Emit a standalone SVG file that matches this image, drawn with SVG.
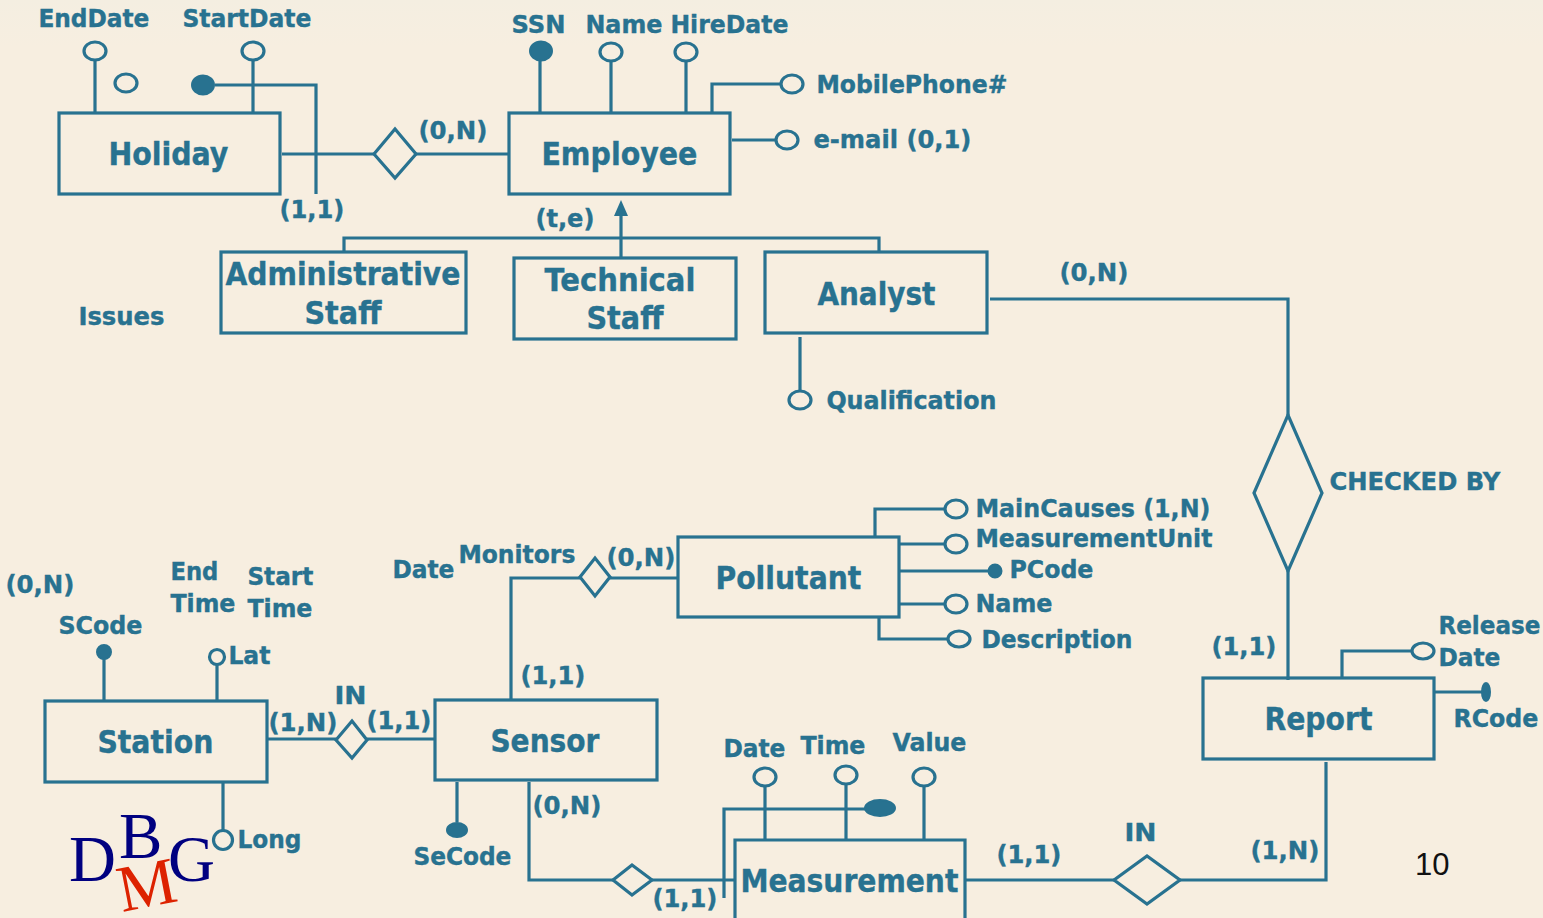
<svg xmlns="http://www.w3.org/2000/svg" width="1543" height="918" viewBox="0 0 1543 918">
<style>
.b{fill:none;stroke:#287290;stroke-width:3.2}
.e{fill:none;stroke:#287290;stroke-width:3.2}
.a{fill:#f7eee0;stroke:#287290;stroke-width:3.2}
.k{fill:#287290;stroke:#287290;stroke-width:2}
.d{fill:#f7eee0;stroke:#287290;stroke-width:3.2}
text{font-family:"DejaVu Sans",Verdana,sans-serif;font-weight:700;fill:#287290;stroke:#287290;stroke-width:.4;transform:translate(-.6px,-.8px)}
.s{font-size:25px}
.n{font-size:32px}
.l{font-family:"Liberation Serif","Times New Roman",serif;font-weight:400;stroke:none;transform:none}
</style>
<defs><linearGradient id="bg" x1="0" y1="0" x2="0" y2="1"><stop offset="0" stop-color="#f4eee1"/><stop offset="0.05" stop-color="#f7eee0"/></linearGradient></defs>
<rect width="1543" height="918" fill="url(#bg)"/>
<g id="connectors" class="e">
<path d="M95 61V113M253 61V113M215 85H316V194M282 154H374M416 154H509"/>
<path d="M540 60V113M611 61V113M686 61V113M712 113V84H781M732 140H776"/>
<path d="M344 251V238H879V252M621 258V207"/>
<path d="M990 299H1288V415M1288 571V680M800 337V390"/>
<path d="M875 537V509H944M900 544H944M900 571H990M900 604H944M879 616V639H947"/>
<path d="M511 700V578H580M610 578H678"/>
<path d="M268 739H336M367 739H435M104 653V701M217 664V701M223 782V832M457 782V822"/>
<path d="M529 782V880H613M652 880H735M724 898V809H868M765 786V840M846 785V840M924 787V840"/>
<path d="M966 880H1114M1180 880H1326V762M1342 678V651H1412M1435 692H1482"/>
</g>
<g id="Holiday"><rect class="b" x="59" y="113" width="221" height="81"/><text class="n" x="109" y="166" textLength="120" lengthAdjust="spacingAndGlyphs">Holiday</text></g>
<g id="Employee"><rect class="b" x="509" y="113" width="221" height="81"/><text class="n" x="542" y="166" textLength="156" lengthAdjust="spacingAndGlyphs">Employee</text></g>
<g id="AdministrativeStaff"><rect class="b" x="221" y="252" width="245" height="81"/><text class="n" x="226" y="286" textLength="235" lengthAdjust="spacingAndGlyphs">Administrative</text><text class="n" x="305" y="325" textLength="77" lengthAdjust="spacingAndGlyphs">Staff</text></g>
<g id="TechnicalStaff"><rect class="b" x="514" y="258" width="222" height="81"/><text class="n" x="545" y="292" textLength="151" lengthAdjust="spacingAndGlyphs">Technical</text><text class="n" x="587" y="330" textLength="77" lengthAdjust="spacingAndGlyphs">Staff</text></g>
<g id="Analyst"><rect class="b" x="765" y="252" width="222" height="81"/><text class="n" x="818" y="306" textLength="118" lengthAdjust="spacingAndGlyphs">Analyst</text></g>
<g id="Pollutant"><rect class="b" x="678" y="537" width="221" height="80"/><text class="n" x="716" y="590" textLength="146" lengthAdjust="spacingAndGlyphs">Pollutant</text></g>
<g id="Station"><rect class="b" x="45" y="701" width="222" height="81"/><text class="n" x="98" y="754" textLength="116" lengthAdjust="spacingAndGlyphs">Station</text></g>
<g id="Sensor"><rect class="b" x="435" y="700" width="222" height="80"/><text class="n" x="491" y="753" textLength="109" lengthAdjust="spacingAndGlyphs">Sensor</text></g>
<g id="Report"><rect class="b" x="1203" y="678" width="231" height="81"/><text class="n" x="1265" y="731" textLength="108" lengthAdjust="spacingAndGlyphs">Report</text></g>
<g id="Measurement"><path class="b" d="M735 918V840H965V918"/><text class="n" x="741" y="893" textLength="218" lengthAdjust="spacingAndGlyphs">Measurement</text></g>
<g id="rel-holiday"><polygon class="d" points="374,154 395,129 416,154 395,178"/></g>
<g id="rel-checked"><polygon class="d" points="1254,493 1288,415 1322,493 1288,571"/></g>
<g id="rel-monitors"><polygon class="d" points="580,577 595,558 610,577 595,596"/></g>
<g id="rel-in1"><polygon class="d" points="336,740 352,721 367,740 352,758"/></g>
<g id="rel-in2"><polygon class="d" points="613,880 632,865 652,880 632,895"/></g>
<g id="rel-in3"><polygon class="d" points="1114,880 1147,856 1180,880 1147,904"/></g>
<g id="attributes">
<ellipse class="a" cx="95" cy="51" rx="11" ry="9"/><ellipse class="a" cx="126" cy="83" rx="11" ry="9"/><ellipse class="a" cx="253" cy="51" rx="11" ry="9"/><ellipse class="k" cx="203" cy="85" rx="11" ry="9.5"/>
<ellipse class="k" cx="541" cy="51" rx="11" ry="9.5"/><ellipse class="a" cx="611" cy="52" rx="11" ry="9"/><ellipse class="a" cx="686" cy="52" rx="11" ry="9"/><ellipse class="a" cx="792" cy="84" rx="11" ry="9"/><ellipse class="a" cx="787" cy="140" rx="11" ry="9"/><ellipse class="a" cx="800" cy="400" rx="11" ry="9"/>
<ellipse class="a" cx="956" cy="509" rx="11" ry="9"/><ellipse class="a" cx="956" cy="544" rx="11" ry="9"/><circle class="k" cx="995" cy="571" r="6.5"/><ellipse class="a" cx="956" cy="604" rx="11" ry="9"/><ellipse class="a" cx="959" cy="639" rx="11" ry="8"/>
<circle class="k" cx="104" cy="652" r="7"/><circle class="a" cx="217" cy="657" r="7.5"/><circle class="a" cx="223" cy="840" r="9.5"/><ellipse class="k" cx="457" cy="830" rx="10" ry="7"/>
<ellipse class="a" cx="765" cy="777" rx="11" ry="9"/><ellipse class="a" cx="846" cy="775" rx="11" ry="9"/><ellipse class="a" cx="924" cy="777" rx="11" ry="9"/><ellipse class="k" cx="880" cy="808" rx="15" ry="8"/>
<ellipse class="a" cx="1423" cy="651" rx="11" ry="8"/><ellipse class="k" cx="1486" cy="692" rx="4" ry="9"/>
</g>
<polygon id="arrow" fill="#287290" points="621,200 614,216 628,216"/>
<g id="labels" class="s">
<text x="39" y="28" textLength="111" lengthAdjust="spacingAndGlyphs">EndDate</text>
<text x="183" y="28" textLength="129" lengthAdjust="spacingAndGlyphs">StartDate</text>
<text x="512" y="34" textLength="54" lengthAdjust="spacingAndGlyphs">SSN</text>
<text x="586" y="34" textLength="77" lengthAdjust="spacingAndGlyphs">Name</text>
<text x="671" y="34" textLength="118" lengthAdjust="spacingAndGlyphs">HireDate</text>
<text x="817" y="94" textLength="191" lengthAdjust="spacingAndGlyphs">MobilePhone#</text>
<text x="814" y="149" textLength="158" lengthAdjust="spacingAndGlyphs">e-mail (0,1)</text>
<text x="419" y="140" textLength="69" lengthAdjust="spacingAndGlyphs">(0,N)</text>
<text x="280" y="219" textLength="65" lengthAdjust="spacingAndGlyphs">(1,1)</text>
<text x="536" y="228" textLength="59" lengthAdjust="spacingAndGlyphs">(t,e)</text>
<text x="79" y="326" textLength="86" lengthAdjust="spacingAndGlyphs">Issues</text>
<text x="1060" y="282" textLength="69" lengthAdjust="spacingAndGlyphs">(0,N)</text>
<text x="827" y="410" textLength="170" lengthAdjust="spacingAndGlyphs">Qualification</text>
<text x="1330" y="491" textLength="171" lengthAdjust="spacingAndGlyphs">CHECKED BY</text>
<text x="976" y="518" textLength="235" lengthAdjust="spacingAndGlyphs">MainCauses (1,N)</text>
<text x="976" y="548" textLength="237" lengthAdjust="spacingAndGlyphs">MeasurementUnit</text>
<text x="1010" y="579" textLength="84" lengthAdjust="spacingAndGlyphs">PCode</text>
<text x="976" y="613" textLength="77" lengthAdjust="spacingAndGlyphs">Name</text>
<text x="982" y="649" textLength="151" lengthAdjust="spacingAndGlyphs">Description</text>
<text x="393" y="579" textLength="62" lengthAdjust="spacingAndGlyphs">Date</text>
<text x="459" y="564" textLength="117" lengthAdjust="spacingAndGlyphs">Monitors</text>
<text x="607" y="567" textLength="69" lengthAdjust="spacingAndGlyphs">(0,N)</text>
<text x="6" y="594" textLength="69" lengthAdjust="spacingAndGlyphs">(0,N)</text>
<text x="171" y="581" textLength="48" lengthAdjust="spacingAndGlyphs">End</text>
<text x="171" y="613" textLength="65" lengthAdjust="spacingAndGlyphs">Time</text>
<text x="248" y="586" textLength="66" lengthAdjust="spacingAndGlyphs">Start</text>
<text x="248" y="618" textLength="65" lengthAdjust="spacingAndGlyphs">Time</text>
<text x="59" y="635" textLength="84" lengthAdjust="spacingAndGlyphs">SCode</text>
<text x="229" y="665" textLength="42" lengthAdjust="spacingAndGlyphs">Lat</text>
<text x="238" y="849" textLength="64" lengthAdjust="spacingAndGlyphs">Long</text>
<text x="335" y="705" textLength="32" lengthAdjust="spacingAndGlyphs">IN</text>
<text x="269" y="732" textLength="69" lengthAdjust="spacingAndGlyphs">(1,N)</text>
<text x="367" y="730" textLength="65" lengthAdjust="spacingAndGlyphs">(1,1)</text>
<text x="521" y="685" textLength="65" lengthAdjust="spacingAndGlyphs">(1,1)</text>
<text x="533" y="815" textLength="69" lengthAdjust="spacingAndGlyphs">(0,N)</text>
<text x="414" y="866" textLength="98" lengthAdjust="spacingAndGlyphs">SeCode</text>
<text x="653" y="908" textLength="65" lengthAdjust="spacingAndGlyphs">(1,1)</text>
<text x="724" y="758" textLength="62" lengthAdjust="spacingAndGlyphs">Date</text>
<text x="801" y="755" textLength="65" lengthAdjust="spacingAndGlyphs">Time</text>
<text x="893" y="752" textLength="74" lengthAdjust="spacingAndGlyphs">Value</text>
<text x="997" y="864" textLength="65" lengthAdjust="spacingAndGlyphs">(1,1)</text>
<text x="1125" y="842" textLength="32" lengthAdjust="spacingAndGlyphs">IN</text>
<text x="1251" y="860" textLength="69" lengthAdjust="spacingAndGlyphs">(1,N)</text>
<text x="1212" y="656" textLength="65" lengthAdjust="spacingAndGlyphs">(1,1)</text>
<text x="1439" y="635" textLength="102" lengthAdjust="spacingAndGlyphs">Release</text>
<text x="1439" y="667" textLength="62" lengthAdjust="spacingAndGlyphs">Date</text>
<text x="1454" y="728" textLength="85" lengthAdjust="spacingAndGlyphs">RCode</text>
</g>
<g id="logo">
<text class="l" x="69" y="881" font-size="65" style="fill:#000080">D</text>
<text class="l" x="119" y="858" font-size="65" style="fill:#000080">B</text>
<text class="l" x="168" y="881" font-size="65" style="fill:#000080">G</text>
<g transform="translate(122,912) rotate(-11)"><text class="l" x="0" y="0" font-size="66" style="fill:#dd2200">M</text></g>
</g>
<text class="l" x="1415" y="875" font-size="31" style="font-family:'Liberation Sans',Arial,sans-serif;fill:#111">10</text>
</svg>
